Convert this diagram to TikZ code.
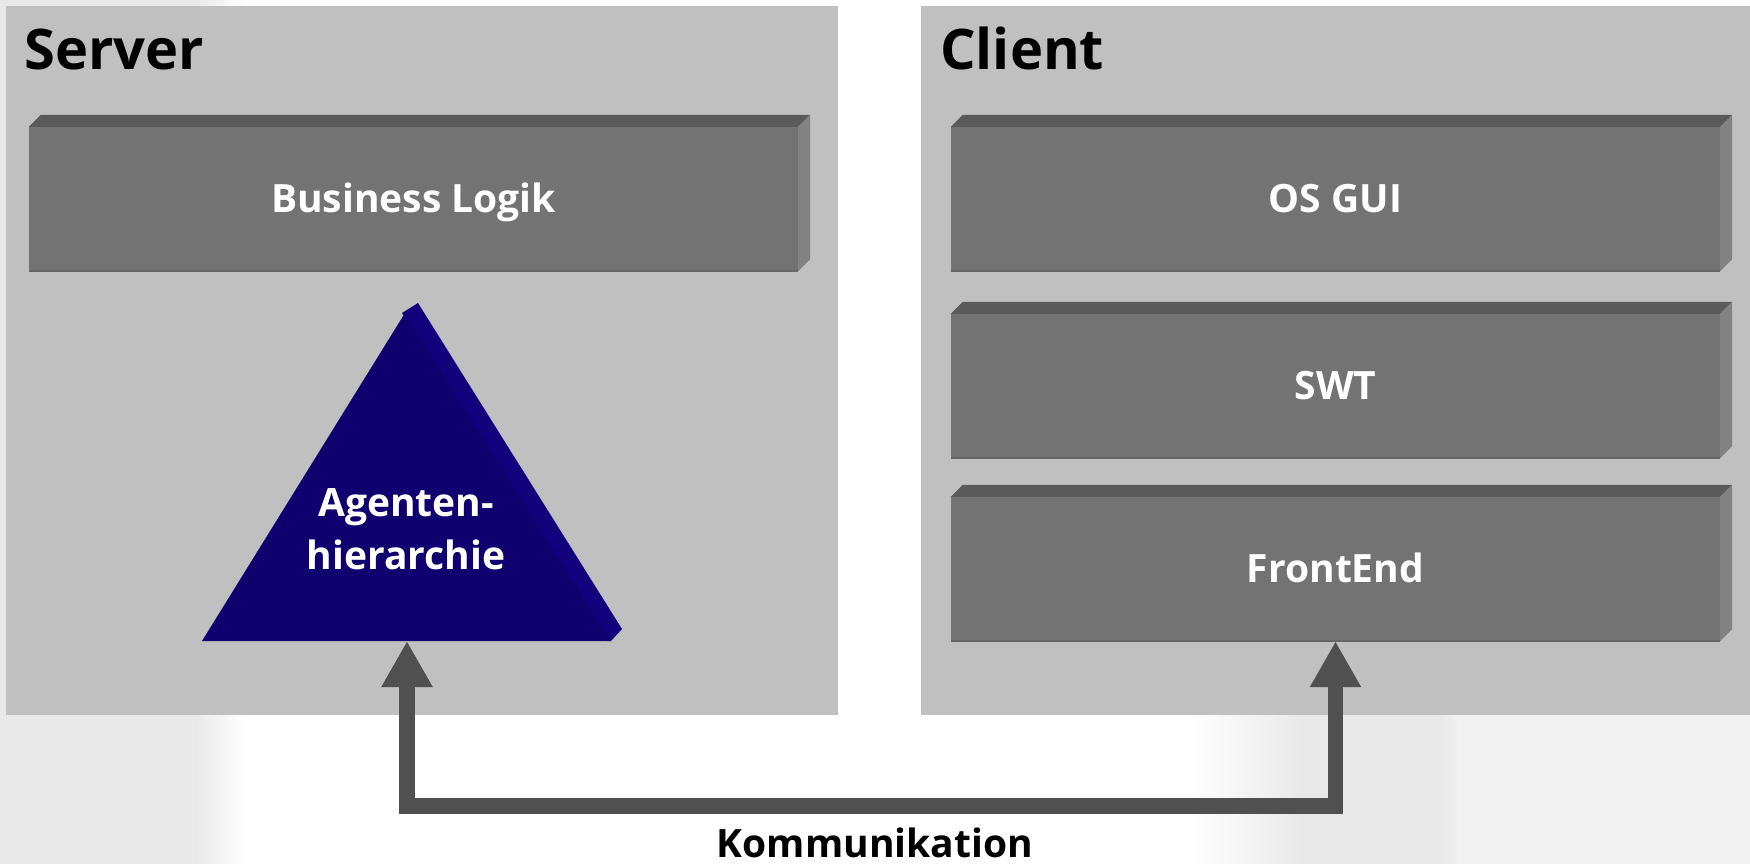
\documentclass[tikz,border=0pt]{standalone}
\usepackage{fontspec}
\setmainfont{Open Sans}
\usetikzlibrary{arrows.meta,calc}

\definecolor{panelgray}{HTML}{C0C0C0}
\definecolor{barfront}{HTML}{737373}
\definecolor{bartop}{HTML}{5A5A5A}
\definecolor{barside}{HTML}{828282}
\definecolor{baredge}{HTML}{666666}
\definecolor{agentfront}{HTML}{10006F}
\definecolor{agentside}{HTML}{12007D}
\definecolor{linkgray}{HTML}{505050}
\definecolor{hazegray}{HTML}{E9E9E9}
\definecolor{hazelight}{HTML}{F1F1F1}

\begin{document}
\begin{tikzpicture}[x=1pt,y=-1pt,
  panel/.style={fill=panelgray, draw=none},
  paneltitle/.style={anchor=base west, inner sep=0pt, text=black,
    font=\fontsize{56}{60}\selectfont\bfseries},
  bar/.style={fill=barfront, draw=none, minimum width=769pt, minimum height=144pt,
    inner sep=0pt, text=white, text height=26pt, text depth=0pt,
    font=\fontsize{39}{45}\selectfont\bfseries},
  agenttext/.style={align=center, inner sep=0pt, text=white,
    font=\fontsize{39}{53}\selectfont\bfseries},
  caption/.style={anchor=base, inner sep=0pt, text=black,
    font=\fontsize{39}{45}\selectfont\bfseries},
  link/.style={draw=linkgray, line width=15.5pt, line join=miter,
    {Triangle[width=48pt,length=46pt]}-{Triangle[width=48pt,length=46pt]}}
]
% canvas and soft background shading
\useasboundingbox (0,0) rectangle (1750,864);
\fill[white] (0,0) rectangle (1750,864);
\fill[hazegray] (0,0) rectangle (195,864);
\shade[left color=hazegray, right color=white] (195,0) rectangle (245,864);
\shade[left color=white, right color=hazegray] (1190,700) rectangle (1300,864);
\fill[hazegray] (1300,700) rectangle (1440,864);
\shade[left color=hazegray, right color=hazelight] (1440,700) rectangle (1460,864);
\fill[hazelight] (1460,700) rectangle (1750,864);

% the two tiers
\fill[panel] (6,6) rectangle (838,715);
\fill[panel] (921,6) rectangle (1750,715);
\node[paneltitle] (servertitle) at (24,70) {Server};
\node[paneltitle] (clienttitle) at (940,70) {Client};

% layer blocks (front faces)
\node[bar] (blogik)   at (413.5,199) {Business Logik};
\node[bar] (osgui)    at (1335.5,199) {OS GUI};
\node[bar] (swt)      at (1335.5,386) {SWT};
\node[bar] (frontend) at (1335.5,569) {FrontEnd};

% bevelled top and side faces of the blocks
\foreach \n in {blogik,osgui,swt,frontend}{
  \fill[bartop] (\n.north west) -- (\n.north east) -- ++(12,-12)
    -- ($(\n.north west)+(12,-12)$) -- cycle;
  \fill[barside] (\n.north east) -- ++(12,-12)
    -- ($(\n.south east)+(12,-12)$) -- (\n.south east) -- cycle;
  \draw[baredge, line width=1.5pt] (\n.south west) -- (\n.south east);
}

% agent hierarchy pyramid (side face slightly underlaps the front face)
\fill[agentside] (402,313) -- (418,303) -- (622,629) -- (611,641) -- (607,641) -- cycle;
\fill[agentfront] (405,313) -- (202,641) -- (611,641) -- cycle;
\coordinate (agbase) at (407,641);
\node[agenttext] (agent) at (406,529) {Agenten-\\hierarchie};

% communication link between server and client
\draw[link] (agbase) -- ++(0,165) -| (frontend.south);
\node[caption] (komm) at (875,857) {Kommunikation};
\end{tikzpicture}
\end{document}
